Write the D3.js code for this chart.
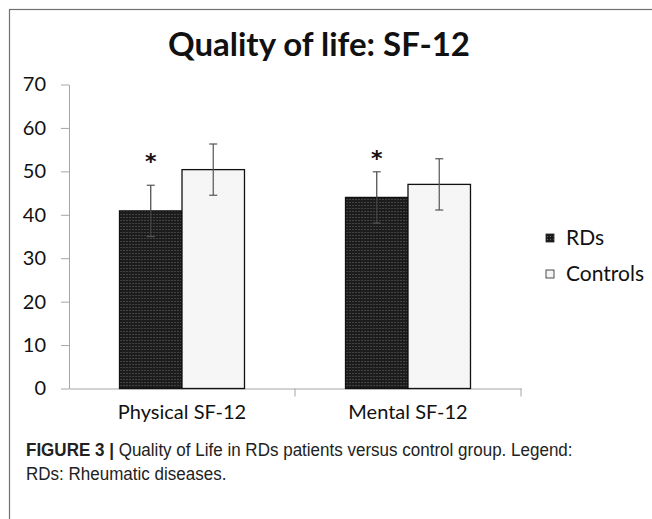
<!DOCTYPE html>
<html>
<head>
<meta charset="utf-8">
<script src="https://cdn.jsdelivr.net/npm/d3@7"></script>
<style>
  body { margin: 0; background: #fff; }
  svg { display: block; }
</style>
</head>
<body>
<div id="chart"></div>
<script>
// DATA
const categories = ["Physical SF-12", "Mental SF-12"]
const seriesNames = ["RDs", "Controls"]
const rdsMeans = [40.9, 44.0]
const rdsSD = [5.9, 5.9]
const controlMeans = [50.4, 47.0]
const controlSD = [5.9, 5.9]
const significance = ["*", "*"]
const starLevel = [53.2, 53.9]
const yTicks = [0, 10, 20, 30, 40, 50, 60, 70]

const drawChart = () => {
  // DIMENSIONS
  const dimensions = {
    width: 652,
    height: 519,
    margin: { top: 84.5, left: 69, bottom: 130.5 },
    plotRight: 521,
  }
  const baseY = dimensions.height - dimensions.margin.bottom
  const chartFont = "Lato, 'Open Sans', sans-serif"
  const captionFont = "'Liberation Sans Narrow', 'Arial Narrow', 'Liberation Sans', Arial, sans-serif"

  const wrapper = d3.select("#chart")
    .append("svg")
    .attr("width", dimensions.width)
    .attr("height", dimensions.height)

  const defs = wrapper.append("defs")
  const dark = defs.append("pattern")
    .attr("id", "darkFill")
    .attr("width", 3).attr("height", 3)
    .attr("patternUnits", "userSpaceOnUse")
  dark.append("rect").attr("width", 3).attr("height", 3).attr("fill", "#1c1c1c")
  dark.append("rect").attr("x", 1).attr("y", 1).attr("width", 1).attr("height", 1).attr("fill", "#6a6a6a")
  const light = defs.append("pattern")
    .attr("id", "lightFill")
    .attr("width", 4).attr("height", 4)
    .attr("patternUnits", "userSpaceOnUse")
  light.append("rect").attr("width", 4).attr("height", 4).attr("fill", "#f8f8f8")
  light.append("path").attr("d", "M0,4 L4,0").attr("stroke", "#ebebeb").attr("stroke-width", 0.8)

  // frame
  wrapper.append("rect")
    .attr("x", 9.5).attr("y", 9.5)
    .attr("width", 700).attr("height", 600)
    .attr("fill", "none")
    .attr("stroke", "#707070")
    .attr("stroke-width", 1.2)

  // title
  wrapper.append("text")
    .attr("x", 319)
    .attr("y", 56)
    .attr("text-anchor", "middle")
    .style("font-family", chartFont)
    .style("font-weight", "bold")
    .style("font-size", "33px")
    .attr("fill", "#111")
    .text("Quality of life: SF-12")

  // SCALES
  const yScale = d3.scaleLinear()
    .domain([0, 70])
    .range([baseY, dimensions.margin.top])

  const xScale = d3.scaleBand()
    .domain(categories)
    .range([dimensions.margin.left, dimensions.plotRight])

  const groupWidth = xScale.bandwidth() * 0.553
  const xInner = d3.scaleBand()
    .domain(seriesNames)
    .range([0, groupWidth])

  // AXES
  const yAxisGenerator = d3.axisLeft(yScale)
    .tickValues(yTicks)
    .tickSize(8)
    .tickPadding(15)
    .tickSizeOuter(0)
  const yAxis = wrapper.append("g")
    .attr("transform", `translate(${dimensions.margin.left},0)`)
    .call(yAxisGenerator)
  yAxis.select(".domain").attr("stroke", "#a6a6a6")
  yAxis.selectAll(".tick line").attr("stroke", "#a6a6a6")
  yAxis.selectAll(".tick text")
    .style("font-family", chartFont)
    .style("font-size", "20px")
    .attr("fill", "#111")

  const xAxisGenerator = d3.axisBottom(xScale)
    .tickSize(0)
    .tickPadding(16)
  const xAxis = wrapper.append("g")
    .attr("transform", `translate(0,${baseY})`)
    .call(xAxisGenerator)
  xAxis.select(".domain").attr("stroke", "#a6a6a6")
  xAxis.selectAll(".tick text")
    .style("font-family", chartFont)
    .style("font-size", "20px")
    .attr("fill", "#111")
  // category separators
  xAxis.selectAll(".sep")
    .data([xScale(categories[1]), dimensions.plotRight])
    .join("line")
      .attr("x1", d => d).attr("x2", d => d)
      .attr("y1", 0).attr("y2", 8)
      .attr("stroke", "#a6a6a6")

  // BARS
  const rows = categories.map((c, i) => ({
    category: c,
    values: [
      { series: "RDs", mean: rdsMeans[i], sd: rdsSD[i] },
      { series: "Controls", mean: controlMeans[i], sd: controlSD[i] },
    ],
    sig: significance[i],
    star: starLevel[i],
  }))

  const groups = wrapper.append("g")
    .selectAll("g")
    .data(rows)
    .join("g")
      .attr("transform", d => `translate(${
        xScale(d.category) + (xScale.bandwidth() - groupWidth) / 2
      },0)`)

  groups.selectAll("rect")
    .data(d => d.values)
    .join("rect")
      .attr("x", d => xInner(d.series))
      .attr("y", d => yScale(d.mean))
      .attr("width", xInner.bandwidth())
      .attr("height", d => baseY - yScale(d.mean))
      .attr("fill", d => d.series === "RDs" ? "url(#darkFill)" : "url(#lightFill)")
      .attr("stroke", "#111")
      .attr("stroke-width", 1.3)

  // error bars
  const err = groups.selectAll(".err")
    .data(d => d.values)
    .join("g")
      .attr("class", "err")
      .attr("transform", d => `translate(${xInner(d.series) + xInner.bandwidth() / 2},0)`)
  err.append("line")
    .attr("y1", d => yScale(d.mean + d.sd))
    .attr("y2", d => yScale(d.mean - d.sd))
    .attr("stroke", d => d.series === "RDs" ? "#444" : "#555")
    .attr("stroke-width", 1.2)
  err.selectAll(".cap")
    .data(d => [d.mean + d.sd, d.mean - d.sd])
    .join("line")
      .attr("x1", -4).attr("x2", 4)
      .attr("y1", d => yScale(d)).attr("y2", d => yScale(d))
      .attr("stroke", "#555")
      .attr("stroke-width", 1.2)

  // significance stars
  groups.append("text")
    .attr("x", xInner("RDs") + xInner.bandwidth() / 2)
    .attr("y", d => yScale(d.star) + 12)
    .attr("text-anchor", "middle")
    .style("font-family", "'DejaVu Sans', sans-serif")
    .style("font-weight", "bold")
    .style("font-size", "22px")
    .attr("fill", "#111")
    .text(d => d.sig)

  // LEGEND
  const legend = wrapper.append("g")
    .selectAll("g")
    .data(seriesNames)
    .join("g")
      .attr("transform", (d, i) => `translate(546,${238 + i * 36})`)
  legend.append("rect")
    .attr("x", 0).attr("y", -4)
    .attr("width", 8).attr("height", 8)
    .attr("fill", d => d === "RDs" ? "url(#darkFill)" : "url(#lightFill)")
    .attr("stroke", "#222")
    .attr("stroke-width", 0.8)
  legend.append("text")
    .attr("x", 20)
    .attr("dy", "0.35em")
    .style("font-family", chartFont)
    .style("font-size", "21px")
    .attr("fill", "#111")
    .text(d => d)

  // CAPTION (slightly condensed)
  const captionG = wrapper.append("g")
    .attr("transform", "translate(26,0) scale(0.92,1)")
  const caption = captionG.append("text")
    .attr("x", 0)
    .attr("y", 456)
    .style("font-family", captionFont)
    .style("font-size", "18.5px")
    .attr("fill", "#222")
  caption.append("tspan")
    .style("font-weight", "bold")
    .text("FIGURE 3 | ")
  caption.append("tspan")
    .text("Quality of Life in RDs patients versus control group. Legend:")
  captionG.append("text")
    .attr("x", 0)
    .attr("y", 480)
    .style("font-family", captionFont)
    .style("font-size", "18.5px")
    .attr("fill", "#222")
    .text("RDs: Rheumatic diseases.")
}

drawChart()
</script>
</body>
</html>
